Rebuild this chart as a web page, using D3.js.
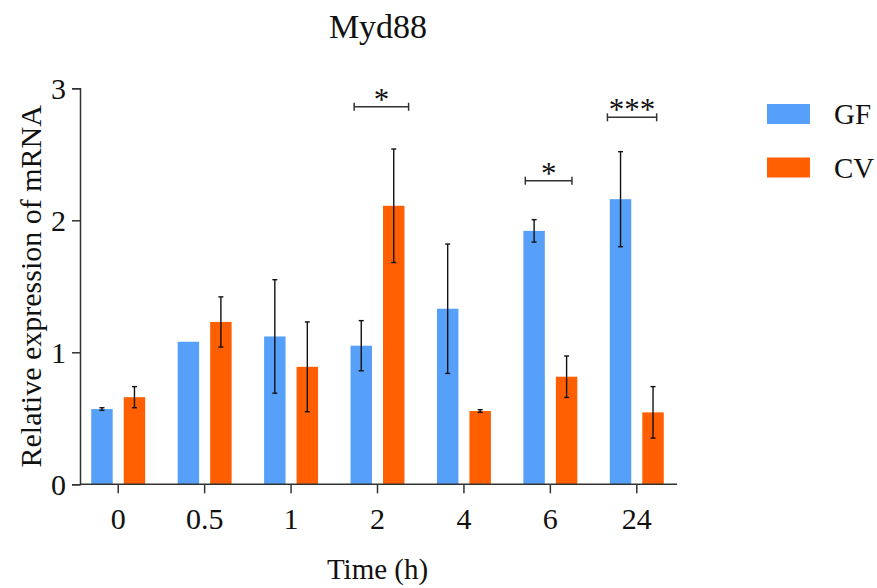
<!DOCTYPE html>
<html>
<head>
<meta charset="utf-8">
<title>Myd88</title>
<script src="https://cdn.jsdelivr.net/npm/d3@7"></script>
<style>
  body { margin: 0; background: #fff; }
  svg text { font-family: "Liberation Serif", "Times New Roman", serif; fill: #111; }
</style>
</head>
<body>
<svg width="877" height="588" font-family="Liberation Serif, serif"></svg>
<script>
// data
var times = ["0", "0.5", "1", "2", "4", "6", "24"];
var groups = ["GF", "CV"];
var gfMean = [0.57, 1.08, 1.12, 1.05, 1.33, 1.92, 2.16];
var gfErr  = [0.01, 0, 0.43, 0.19, 0.49, 0.085, 0.36];
var cvMean = [0.66, 1.23, 0.89, 2.11, 0.555, 0.815, 0.545];
var cvErr  = [0.08, 0.19, 0.34, 0.43, 0.01, 0.157, 0.195];
var yTicks = [0, 1, 2, 3];
// significance brackets: y in data units, from/to as fraction of the band
var sigTimes  = ["2", "6", "24"];
var sigLabels = ["*", "*", "***"];
var sigY      = [2.86, 2.30, 2.78];
var sigFrom   = [0.23, 0.21, 0.16];
var sigTo     = [0.86, 0.75, 0.73];

var colors = {GF: "#56a0f9", CV: "#ff5f00"};
var serif = "'Liberation Serif', 'Times New Roman', serif";

var svg = d3.select("svg");

var x0 = d3.scaleBand().domain(times).range([75, 680]);
var x1 = d3.scaleBand().domain(groups).range([0, x0.bandwidth()])
    .paddingInner(0.34).paddingOuter(0.5);
var y = d3.scaleLinear().domain([0, 3]).range([484.3, 88.3]);

var rows = [];
times.forEach(function(t, i) {
  rows.push({time: t, group: "GF", mean: gfMean[i], err: gfErr[i]});
  rows.push({time: t, group: "CV", mean: cvMean[i], err: cvErr[i]});
});

// bars
svg.append("g").selectAll("rect")
  .data(rows)
  .enter().append("rect")
    .attr("x", function(d) { return x0(d.time) + x1(d.group); })
    .attr("y", function(d) { return y(d.mean); })
    .attr("width", x1.bandwidth())
    .attr("height", function(d) { return y(0) - y(d.mean); })
    .attr("fill", function(d) { return colors[d.group]; });

// error bars
var eb = svg.append("g").attr("stroke", "#111").attr("stroke-width", 1.4);
rows.filter(function(d) { return d.err > 0; }).forEach(function(d) {
  var cx = x0(d.time) + x1(d.group) + x1.bandwidth() / 2;
  var y1 = y(d.mean + d.err), y2 = y(d.mean - d.err);
  eb.append("line").attr("x1", cx).attr("x2", cx).attr("y1", y1).attr("y2", y2);
  eb.append("line").attr("x1", cx - 2.5).attr("x2", cx + 2.5).attr("y1", y1).attr("y2", y1);
  eb.append("line").attr("x1", cx - 2.5).attr("x2", cx + 2.5).attr("y1", y2).attr("y2", y2);
});

// axes
var yAxis = svg.append("g")
    .attr("transform", "translate(80,0)")
    .call(d3.axisLeft(y).tickValues(yTicks).tickFormat(d3.format("d")).tickSize(8).tickPadding(6))
    .attr("font-family", serif).attr("font-size", 30);
yAxis.selectAll("path, line").attr("stroke", "#333").attr("stroke-width", 1.5);
yAxis.selectAll("text").attr("fill", "#111").attr("dy", "0.34em");

var xAxis = svg.append("g")
    .attr("transform", "translate(0," + y(0) + ")")
    .call(d3.axisBottom(x0).tickSize(9).tickPadding(14))
    .attr("font-family", serif).attr("font-size", 30);
xAxis.select(".domain").remove();
xAxis.append("line")
    .attr("x1", 80).attr("x2", x0.range()[1] - 3)
    .attr("y1", 0).attr("y2", 0);
xAxis.selectAll("line").attr("stroke", "#333").attr("stroke-width", 1.5);
xAxis.selectAll("text").attr("fill", "#111");

// axis titles
svg.append("text")
    .attr("transform", "translate(30," + (y(0) + y(3)) / 2 + ") rotate(-90)")
    .attr("text-anchor", "middle").attr("dy", "0.35em")
    .style("font-family", serif).style("font-size", "30px")
    .text("Relative expression of mRNA");

svg.append("text")
    .attr("x", (x0.range()[0] + x0.range()[1]) / 2).attr("y", 579)
    .attr("text-anchor", "middle")
    .style("font-family", serif).style("font-size", "29px")
    .text("Time (h)");

svg.append("text")
    .attr("x", 378).attr("y", 38)
    .attr("text-anchor", "middle")
    .style("font-family", serif).style("font-size", "34px")
    .text("Myd88");

// significance brackets
var sg = svg.append("g");
sigTimes.forEach(function(t, i) {
  var xa = x0(t) + sigFrom[i] * x0.bandwidth();
  var xb = x0(t) + sigTo[i] * x0.bandwidth();
  var yy = y(sigY[i]);
  var g = sg.append("g").attr("stroke", "#333").attr("stroke-width", 1.5);
  g.append("line").attr("x1", xa).attr("x2", xb).attr("y1", yy).attr("y2", yy);
  g.append("line").attr("x1", xa).attr("x2", xa).attr("y1", yy - 4).attr("y2", yy + 4);
  g.append("line").attr("x1", xb).attr("x2", xb).attr("y1", yy - 4).attr("y2", yy + 4);
  sg.append("text")
      .attr("x", (xa + xb) / 2).attr("y", yy + 3)
      .attr("text-anchor", "middle")
      .style("font-family", serif).style("font-size", "31px")
      .text(sigLabels[i]);
});

// legend
var lg = svg.append("g").attr("transform", "translate(767,104)");
groups.forEach(function(k, i) {
  lg.append("rect").attr("x", 0).attr("y", i * 53.5)
      .attr("width", 43).attr("height", 20).attr("fill", colors[k]);
  lg.append("text").attr("x", 67).attr("y", i * 53.5 + 20)
      .style("font-family", serif).style("font-size", "29px").text(k);
});
</script>
</body>
</html>
